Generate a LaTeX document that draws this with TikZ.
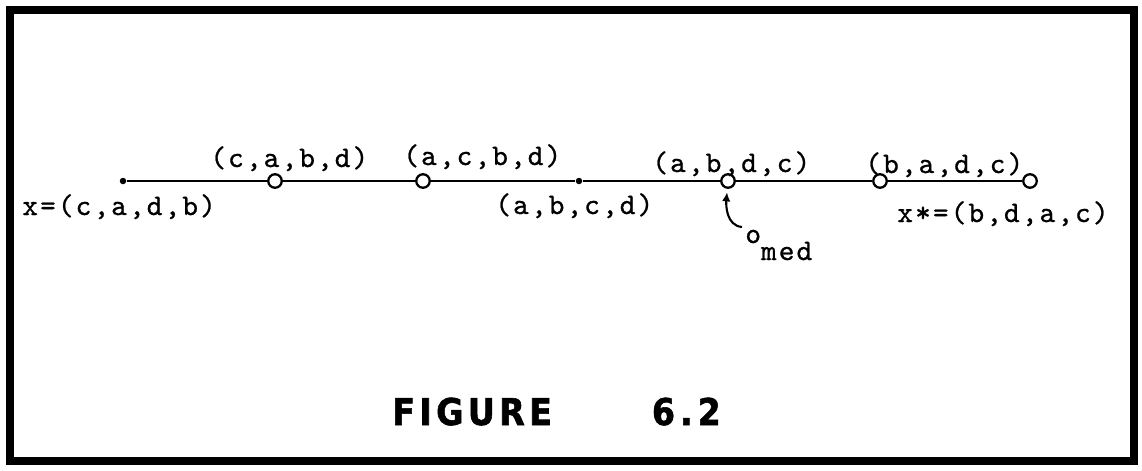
\documentclass[tikz,border=0pt]{standalone}
\usepackage{fontspec}
\usepackage{tikz}
\usetikzlibrary{positioning,arrows.meta,calc}
\newfontfamily\typefont[LetterSpace=7,FakeBold=0.8]{lmmono10-regular.otf}
\newfontfamily\figfont[LetterSpace=12,FakeBold=1.5]{DejaVu Sans Condensed}

\begin{document}
\begin{tikzpicture}[
  dot/.style={circle, fill=black, inner sep=0pt, minimum size=0.13cm},
  ring/.style={circle, draw, line width=1.3pt, fill=white, inner sep=0pt, minimum size=0.27cm},
  lbl/.style={anchor=base west, inner sep=0pt, font=\typefont\fontsize{17}{19}\selectfont},
  arrow/.style={-{Latex[length=1.8mm,width=1.7mm]}, line width=1.2pt}
]
  \useasboundingbox (0,0) rectangle (22.84,9.4);
  \draw[line width=4.3pt] (0.2,0.18) rectangle (22.68,9.2);

  % points on the path
  \node[dot] (x) at (2.46,5.78) {};
  \node[ring] (p1) at (5.5,5.78) {};
  \node[ring] (p2) at (8.46,5.78) {};
  \node[dot] (c) at (11.58,5.78) {};
  \node[ring] (med) at (14.56,5.78) {};
  \node[ring] (p5) at (17.6,5.78) {};
  \node[ring] (xs) at (20.6,5.78) {};

  \draw[line width=1.7pt] (x) -- (p1) -- (p2) -- (c) -- (med) -- (p5) -- (xs);

  % permutations
  \node[lbl] (lx) at (0.44,5.1) {x=(c,a,d,b)};
  \node[lbl] (l1) at (4.2,6.06) {(c,a,b,d)};
  \node[lbl] (l2) at (8.06,6.1) {(a,c,b,d)};
  \node[lbl] (lc) at (9.9,5.12) {(a,b,c,d)};
  \node[lbl] (lm) at (13.04,5.96) {(a,b,d,c)};
  \node[lbl] (l5) at (17.3,5.94) {(b,a,d,c)};
  \node[lbl] (lxs) at (17.94,4.96) {x*=(b,d,a,c)};

  \node[lbl] (omed) at (14.9,4.54) {o\raisebox{-0.34cm}{med}};
  \coordinate (tail) at (14.84,4.86);
  \draw[arrow, shorten >=2pt] (tail) to[out=175, in=-95] (med);

  \node[anchor=base west, inner sep=0pt, font=\figfont\bfseries\fontsize{21}{24}\selectfont] (title) at (7.84,0.9) {FIGURE\hspace{2cm}6\hspace{0.1cm}.\hspace{0.1cm}2};
\end{tikzpicture}
\end{document}
